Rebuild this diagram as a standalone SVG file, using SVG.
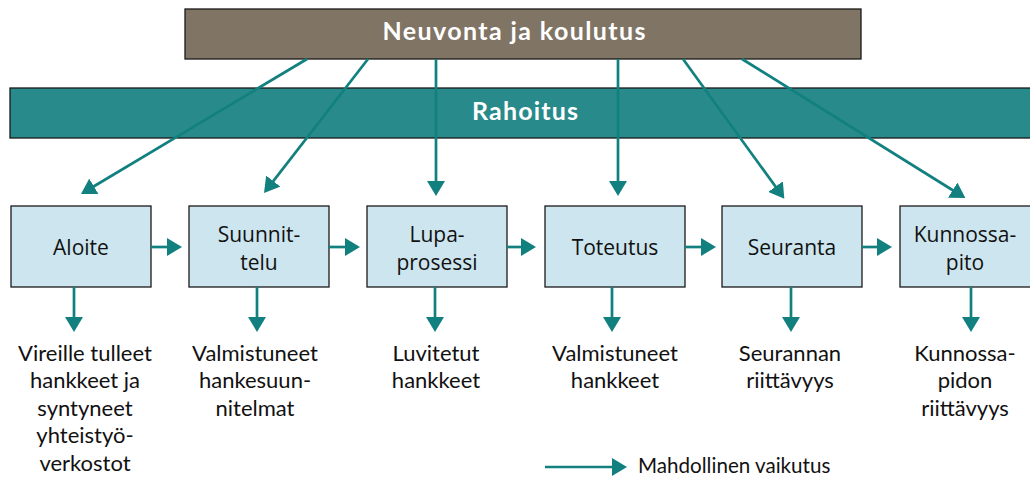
<svg xmlns="http://www.w3.org/2000/svg" width="1030" height="479" viewBox="0 0 1030 479">
<style>
.hdr{font-family:Lato,"Liberation Sans",sans-serif;font-weight:bold;fill:#ffffff;text-anchor:middle}
.box{fill:#cde5ee;stroke:#1a1a1a;stroke-width:1.3}
.lbl{font-family:"Open Sans","Noto Sans",sans-serif;font-size:21px;fill:#111;text-anchor:middle}
.out{font-family:Lato,"Liberation Sans",sans-serif;font-size:22px;fill:#111;text-anchor:middle}
.con{stroke:#138080;stroke-width:2.7;fill:none;marker-end:url(#ah)}
</style>
<defs>
<marker id="ah" markerUnits="userSpaceOnUse" markerWidth="16" markerHeight="18" refX="11" refY="9" orient="auto">
<path d="M0,0 L15,9 L0,18 z" fill="#138080"/>
</marker>
</defs>
<rect width="1030" height="479" fill="#ffffff"/>
<g id="neuvonta">
<rect x="185" y="9" width="676" height="50" fill="#807465" stroke="#1a1a1a" stroke-width="1.3"/>
<text class="hdr" x="514" y="40" font-size="25" textLength="263" lengthAdjust="spacing">Neuvonta ja koulutus</text>
</g>
<g id="rahoitus">
<rect x="10" y="88" width="1030" height="50" fill="#288a8a" stroke="#1a1a1a" stroke-width="1.3"/>
<text class="hdr" x="525" y="120" font-size="25" textLength="106" lengthAdjust="spacing">Rahoitus</text>
</g>
<g id="aloite">
<rect class="box" x="11" y="206" width="140" height="81"/>
<text class="lbl" x="81" y="255">Aloite</text>
</g>
<g id="suunnittelu">
<rect class="box" x="189" y="206" width="140" height="81"/>
<text class="lbl" x="259" y="242">Suunnit-</text>
<text class="lbl" x="259" y="270">telu</text>
</g>
<g id="lupaprosessi">
<rect class="box" x="367" y="206" width="140" height="81"/>
<text class="lbl" x="437" y="242">Lupa-</text>
<text class="lbl" x="437" y="270">prosessi</text>
</g>
<g id="toteutus">
<rect class="box" x="545" y="206" width="140" height="81"/>
<text class="lbl" x="615" y="255">Toteutus</text>
</g>
<g id="seuranta">
<rect class="box" x="722" y="206" width="140" height="81"/>
<text class="lbl" x="792" y="255">Seuranta</text>
</g>
<g id="kunnossapito">
<rect class="box" x="900" y="206" width="140" height="81"/>
<text class="lbl" x="965" y="242">Kunnossa-</text>
<text class="lbl" x="965" y="270">pito</text>
</g>
<g id="tulokset">
<text class="out" x="85" y="361">Vireille tulleet</text>
<text class="out" x="85" y="388">hankkeet ja</text>
<text class="out" x="85" y="416">syntyneet</text>
<text class="out" x="85" y="443">yhteistyö-</text>
<text class="out" x="85" y="471">verkostot</text>
<text class="out" x="255" y="361">Valmistuneet</text>
<text class="out" x="255" y="388">hankesuun-</text>
<text class="out" x="255" y="416">nitelmat</text>
<text class="out" x="436" y="361">Luvitetut</text>
<text class="out" x="436" y="388">hankkeet</text>
<text class="out" x="615" y="361">Valmistuneet</text>
<text class="out" x="615" y="388">hankkeet</text>
<text class="out" x="790" y="361">Seurannan</text>
<text class="out" x="790" y="388">riittävyys</text>
<text class="out" x="965" y="361">Kunnossa-</text>
<text class="out" x="965" y="388">pidon</text>
<text class="out" x="965" y="416">riittävyys</text>
</g>
<g id="connectors">
<line class="con" x1="307" y1="59" x2="84.4" y2="192"/>
<line class="con" x1="368" y1="59" x2="266.5" y2="189.8"/>
<line class="con" x1="436" y1="59" x2="436" y2="192"/>
<line class="con" x1="618" y1="59" x2="618" y2="192"/>
<line class="con" x1="683" y1="59" x2="782" y2="195.5"/>
<line class="con" x1="742" y1="59" x2="962" y2="196"/>
<line class="con" x1="151" y1="247" x2="178" y2="247"/>
<line class="con" x1="329" y1="247" x2="356" y2="247"/>
<line class="con" x1="507" y1="247" x2="532" y2="247"/>
<line class="con" x1="685" y1="247" x2="712" y2="247"/>
<line class="con" x1="862" y1="247" x2="888" y2="247"/>
<line class="con" x1="74" y1="287" x2="74" y2="328"/>
<line class="con" x1="257" y1="287" x2="257" y2="328"/>
<line class="con" x1="435" y1="287" x2="435" y2="328"/>
<line class="con" x1="612" y1="287" x2="612" y2="328"/>
<line class="con" x1="791" y1="287" x2="791" y2="328"/>
<line class="con" x1="971" y1="287" x2="971" y2="328"/>
</g>
<g id="legend">
<line class="con" x1="545" y1="467" x2="623" y2="467"/>
<text x="638" y="473" font-family="Lato,'Liberation Sans',sans-serif" font-size="20.6" fill="#111">Mahdollinen vaikutus</text>
</g>
</svg>
